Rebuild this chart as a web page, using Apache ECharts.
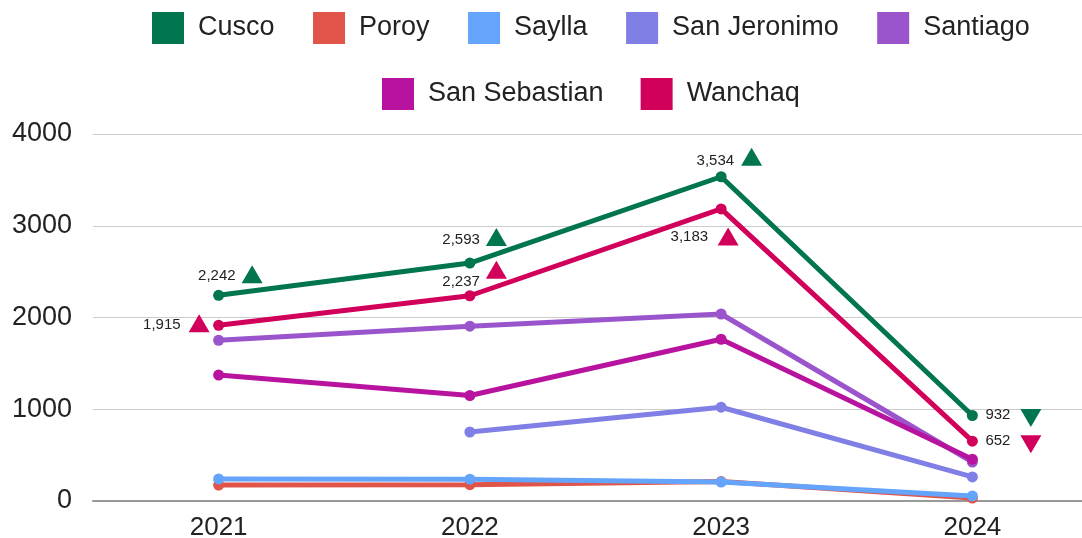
<!DOCTYPE html>
<html>
<head>
<meta charset="utf-8">
<script src="https://cdn.jsdelivr.net/npm/echarts@6/dist/echarts.min.js"></script>
<style>
html,body{margin:0;padding:0;background:#fff;}
#chart{width:1082px;height:538px;}
</style>
</head>
<body>
<div id="chart"></div>
<script>
const categories = ['2021', '2022', '2023', '2024'];
const cusco = [2242, 2593, 3534, 932];
const poroy = [174, 178, 212, 32];
const saylla = [240, 238, 207, 55];
const sanJeronimo = [null, 752, 1022, 262];
const santiago = [1752, 1905, 2038, 425];
const sanSebastian = [1373, 1150, 1763, 455];
const wanchaq = [1915, 2237, 3183, 652];
const yTicks = [0, 1000, 2000, 3000, 4000];

const names = ['Cusco', 'Poroy', 'Saylla', 'San Jeronimo', 'Santiago', 'San Sebastian', 'Wanchaq'];
const colors = ['#00754f', '#e0544a', '#64a5fb', '#7f7fe5', '#9b55cc', '#b8139f', '#d1005a'];
const values = [cusco, poroy, saylla, sanJeronimo, santiago, sanSebastian, wanchaq];

// annotation layout (label anchor offsets and triangle offsets, per point)
const annot = {
  'Cusco': [
    {align: 'right', off: [17, -19], tri: [33.5, -21], dir: 'up'},
    {align: 'right', off: [10, -23], tri: [26.5, -26], dir: 'up'},
    {align: 'right', off: [13, -16], tri: [30.5, -20], dir: 'up'},
    {align: 'left', off: [13, -1], tri: [58.5, 2.5], dir: 'down'}
  ],
  'Wanchaq': [
    {align: 'right', off: [-38, 0], tri: [-19.5, -2], dir: 'up'},
    {align: 'right', off: [10, -14], tri: [26.5, -26], dir: 'up'},
    {align: 'right', off: [-13, 28], tri: [7, 27.5], dir: 'up'},
    {align: 'left', off: [13, 0], tri: [58.5, 3], dir: 'down'}
  ]
};

const fmt = v => v.toLocaleString('en-US');
const FONT = "'Liberation Sans', Arial, sans-serif";

const series = names.map((name, si) => {
  const a = annot[name];
  const data = values[si].map((v, i) => {
    if (v === null) return '-';
    if (!a) return v;
    const c = a[i];
    return {
      value: v,
      label: {
        show: true, position: 'inside', align: c.align, verticalAlign: 'middle',
        offset: c.off, formatter: () => fmt(v),
        fontSize: 15, color: '#222', fontFamily: FONT
      }
    };
  });
  const s = {
    name, type: 'line', data,
    color: colors[si],
    lineStyle: {width: 5, color: colors[si]},
    itemStyle: {color: colors[si]},
    symbol: 'circle', symbolSize: 11, showSymbol: true,
    label: {show: false},
    emphasis: {disabled: true},
    z: 2 + si
  };
  if (a) {
    s.markPoint = {
      silent: true,
      label: {show: false},
      data: a.map((c, i) => ({
        coord: [categories[i], values[si][i]],
        symbol: 'triangle',
        symbolSize: [21, 18],
        symbolRotate: c.dir === 'down' ? 180 : 0,
        symbolOffset: c.tri,
        itemStyle: {color: colors[si]}
      }))
    };
  }
  return s;
});

const legendCommon = {
  itemWidth: 32, itemHeight: 32, icon: 'rect', padding: 0,
  textStyle: {fontSize: 27, color: '#222', fontFamily: FONT, padding: [0, 0, 0, 9]},
  selectedMode: false
};

const chart = echarts.init(document.getElementById('chart'));
chart.setOption({
  animation: false,
  backgroundColor: '#fff',
  textStyle: {fontFamily: FONT},
  legend: [
    Object.assign({}, legendCommon, {data: names.slice(0, 5), left: 152, top: 12, itemGap: 38.5}),
    Object.assign({}, legendCommon, {data: names.slice(5), left: 382, top: 78, itemGap: 37})
  ],
  grid: {left: 93, top: 134, width: 1005, bottom: 37, containLabel: false, outerBoundsMode: 'none'},
  xAxis: {
    type: 'category', data: categories, boundaryGap: true,
    axisLine: {lineStyle: {color: '#999', width: 2}},
    axisTick: {show: false},
    axisLabel: {fontSize: 26, color: '#222', margin: 14, fontFamily: FONT}
  },
  yAxis: {
    type: 'value', min: yTicks[0], max: yTicks[yTicks.length - 1], interval: 1000,
    axisLine: {show: false}, axisTick: {show: false},
    splitLine: {lineStyle: {color: '#ccc', width: 1}},
    axisLabel: {fontSize: 27, color: '#222', margin: 21, fontFamily: FONT, formatter: v => String(v)}
  },
  series
});
</script>
</body>
</html>
